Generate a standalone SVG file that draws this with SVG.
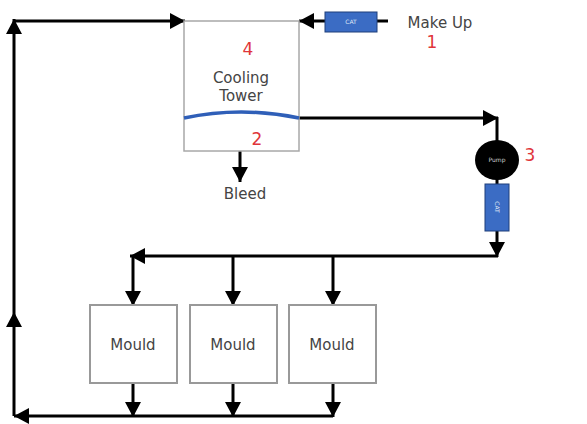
<svg xmlns="http://www.w3.org/2000/svg" width="587" height="424" viewBox="0 0 587 424">
<style>
.ln{stroke:#000;stroke-width:3;fill:none}
.arr{marker-end:url(#ah)}
.box{fill:#fff;stroke:#a8a8a8;stroke-width:1.5}
.mb{fill:#fff;stroke:#999;stroke-width:2}
.cat{fill:#3b6cc4;stroke:#1f3f7a;stroke-width:1}
.t{font-family:"DejaVu Sans",Verdana,sans-serif;fill:#444;font-size:15px;text-anchor:middle}
.n{font-family:"DejaVu Sans",Verdana,sans-serif;fill:#e0353a;font-size:17px;text-anchor:middle}
.s{font-family:"DejaVu Sans",Verdana,sans-serif;fill:#dfe6f5;font-size:6px;text-anchor:middle}
</style>
<defs>
<marker id="ah" markerUnits="userSpaceOnUse" markerWidth="16" markerHeight="16" refX="15" refY="8" orient="auto" viewBox="0 0 16 16">
<path d="M0,0 L15,8 L0,16 z" fill="#000"/>
</marker>
</defs>
<g id="connectors">
<path class="ln arr" d="M333,416 H14"/>
<path class="ln arr" d="M14,416 V312"/>
<path class="ln arr" d="M14,312 V19"/>
<path class="ln arr" d="M14,21 H185"/>
<path class="ln" d="M388,21 H377"/>
<path class="ln arr" d="M325,21 H299"/>
<path class="ln arr" d="M299,118 H498"/>
<path class="ln" d="M497,117 V142"/>
<path class="ln" d="M497,178 V184"/>
<path class="ln arr" d="M497,231 V257"/>
<path class="ln arr" d="M498,256 H130"/>
<path class="ln arr" d="M133,256 V306"/>
<path class="ln arr" d="M233,256 V306"/>
<path class="ln arr" d="M333,256 V306"/>
<path class="ln arr" d="M133,383 V417"/>
<path class="ln arr" d="M233,383 V417"/>
<path class="ln arr" d="M333,383 V417"/>
<path class="ln arr" d="M240,151 V182"/>
</g>
<g id="tower">
<rect class="box" x="184" y="21" width="115" height="130"/>
<path d="M184,118 Q241,106 299,118" stroke="#2f5fb8" stroke-width="3.5" fill="none"/>
<text class="n" x="248" y="55">4</text>
<text class="t" x="241" y="83">Cooling</text>
<text class="t" x="241" y="101">Tower</text>
<text class="n" x="257" y="145">2</text>
</g>
<g id="makeup-cat">
<rect class="cat" x="325" y="12" width="52" height="20"/>
<text class="s" x="351" y="24">CAT</text>
</g>
<g id="makeup-label">
<text class="t" x="440" y="28">Make Up</text>
<text class="n" x="432" y="48">1</text>
</g>
<g id="bleed">
<text class="t" x="245" y="199">Bleed</text>
</g>
<g id="pump">
<ellipse cx="497" cy="160" rx="22" ry="20" fill="#000"/>
<text class="s" x="497" y="162" style="fill:#cfcfcf">Pump</text>
<text class="n" x="530" y="161">3</text>
</g>
<g id="pump-cat">
<rect class="cat" x="485" y="184" width="24" height="47"/>
<text class="s" transform="translate(497,207) rotate(90)" y="2">CAT</text>
</g>
<g id="mould1">
<rect class="mb" x="90" y="305" width="87" height="78"/>
<text class="t" x="133" y="350">Mould</text>
</g>
<g id="mould2">
<rect class="mb" x="190" y="305" width="87" height="78"/>
<text class="t" x="233" y="350">Mould</text>
</g>
<g id="mould3">
<rect class="mb" x="289" y="305" width="87" height="78"/>
<text class="t" x="332" y="350">Mould</text>
</g>
</svg>
